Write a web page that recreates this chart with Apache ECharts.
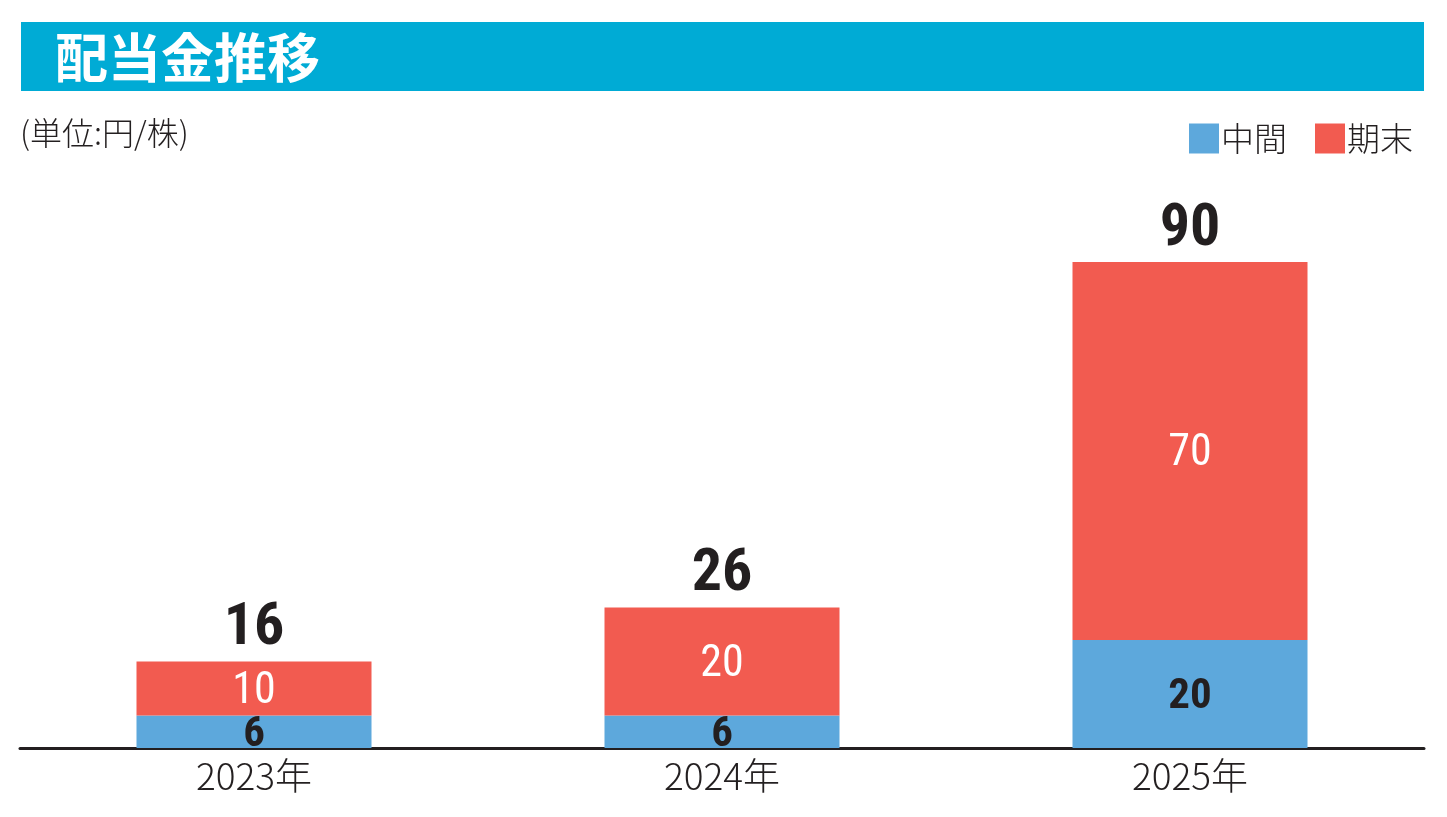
<!DOCTYPE html>
<html><head><meta charset="utf-8">
<script src="https://cdn.jsdelivr.net/npm/echarts@6/dist/echarts.min.js"></script>
<style>html,body{margin:0;padding:0;background:#fff}#c{width:1447px;height:817px}</style>
</head><body><div id="c"></div>
<script>
const categories = ['2023年', '2024年', '2025年'];
const interimValues = [6, 6, 20];
const yearEndValues = [10, 20, 70];
const totalValues = [16, 26, 90];
const seriesNames = ['中間', '期末'];
const titleText = '配当金推移';
const unitText = '(単位:円/株)';

const cjk = '"Noto Sans CJK JP", "Noto Sans", sans-serif';
const num = '"Roboto Condensed", "Open Sans Condensed", sans-serif';
const dark = '#231f20';

const chart = echarts.init(document.getElementById('c'), null, {renderer: 'canvas'});
chart.setOption({
  backgroundColor: '#fff',
  animation: false,
  graphic: [
    {type: 'rect', shape: {x: 21, y: 22, width: 1403, height: 69}, style: {fill: '#00abd5'}},
    {type: 'text', x: 55, y: 58, style: {text: titleText, fill: '#fff', font: 'bold 53px ' + cjk, textVerticalAlign: 'middle'}},
    {type: 'text', x: 20, y: 133, style: {text: unitText, fill: dark, font: '300 32px ' + cjk, textVerticalAlign: 'middle'}}
  ],
  legend: {
    right: 29, top: 117,
    itemWidth: 30, itemHeight: 30, itemGap: 28,
    icon: 'rect',
    textStyle: {fontFamily: cjk, fontSize: 33, fontWeight: 300, color: dark, padding: [0, 0, 0, -3]},
    data: seriesNames
  },
  grid: {left: 20, right: 23, top: 208, bottom: 69, containLabel: false},
  xAxis: {
    type: 'category', data: categories,
    axisLine: {lineStyle: {color: dark, width: 3}},
    axisTick: {show: false},
    axisLabel: {fontFamily: cjk, fontSize: 37, color: dark, margin: 9, fontWeight: 300}
  },
  yAxis: {type: 'value', min: 0, max: 100, show: false, splitLine: {show: false}},
  series: [
    {
      name: seriesNames[0], type: 'bar', stack: 'a', data: interimValues, barWidth: 235,
      itemStyle: {color: '#5da8dc'},
      label: {show: true, position: 'inside', fontFamily: num, fontSize: 43, fontWeight: 'bold', color: dark, offset: [0, 3]}
    },
    {
      name: seriesNames[1], type: 'bar', stack: 'a', data: yearEndValues, barWidth: 235,
      itemStyle: {color: '#f25b50'},
      label: {show: true, position: 'inside', fontFamily: num, fontSize: 44, fontWeight: 'normal', color: '#fff', offset: [0, 3]}
    },
    {
      type: 'line', data: totalValues, symbol: 'circle', symbolSize: 1, itemStyle: {opacity: 0},
      lineStyle: {opacity: 0}, silent: true, tooltip: {show: false},
      label: {show: true, position: 'top', distance: 2, fontFamily: num, fontSize: 60, fontWeight: 'bold', color: dark, opacity: 1}
    }
  ]
});
</script></body></html>
